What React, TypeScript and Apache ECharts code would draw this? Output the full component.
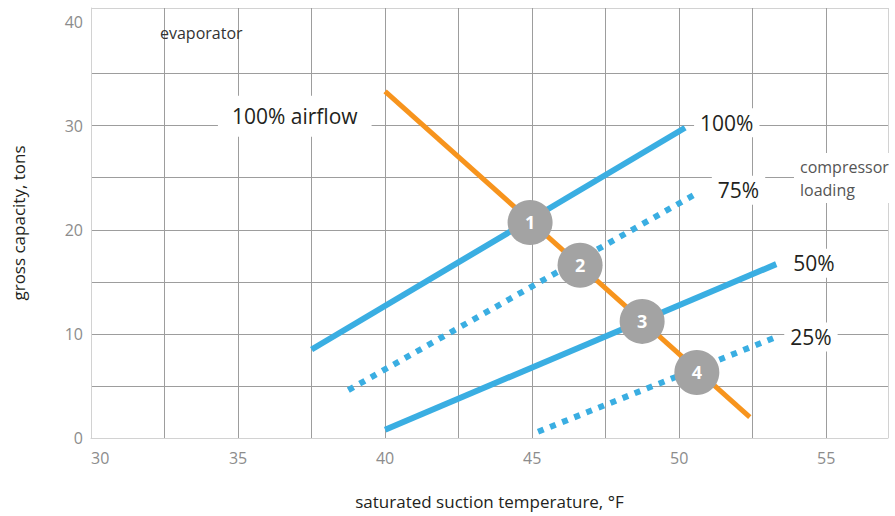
import React, { useEffect, useRef } from "react";
import * as echarts from "echarts";

// Tick labels shown on the axes
const xLabelValues = [30, 35, 40, 45, 50, 55];
const yLabelValues = [0, 10, 20, 30, 40];

// Lines: [saturated suction temperature °F, gross capacity tons]
const airflow100 = [
  [40.0, 33.3],
  [52.4, 2.0],
];
const load100 = [
  [37.5, 8.5],
  [50.2, 29.8],
];
const load75 = [
  [38.75, 4.6],
  [50.6, 23.5],
];
const load50 = [
  [40.0, 0.8],
  [53.3, 16.7],
];
const load25 = [
  [45.2, 0.6],
  [53.3, 9.7],
];

// Operating points (balance points)
const pointNames = ["1", "2", "3", "4"];
const pointX = [44.93, 46.63, 48.74, 50.6];
const pointY = [20.7, 16.6, 11.2, 6.3];

const loadNames = ["100%", "75%", "50%", "25%"];

const FONT = "Open Sans";
const BLUE = "#3aaee2";
const ORANGE = "#f7941d";
const GRID_GRAY = "#9d9d9d";
const EDGE_GRAY = "#d2d2d2";

export default function App() {
  const ref = useRef<HTMLDivElement>(null);

  useEffect(() => {
    if (!ref.current) return;
    const chart = echarts.init(ref.current, null, { renderer: "svg" });

    const xColors = [EDGE_GRAY];
    for (let i = 0; i < 10; i++) xColors.push(GRID_GRAY);
    xColors.push(EDGE_GRAY);

    const yColors = [EDGE_GRAY];
    for (let i = 0; i < 7; i++) yColors.push(GRID_GRAY);
    yColors.push("rgba(0,0,0,0)");
    yColors.push(EDGE_GRAY);

    const endLabel = (text: string, offset: number[]) => ({
      show: true,
      formatter: text,
      offset,
      fontFamily: FONT,
      fontSize: 21,
      color: "#231f20",
      backgroundColor: "#ffffff",
      padding: [4, 6],
    });

    const solid = { color: BLUE, width: 6, cap: "butt" };
    const dotted = { color: BLUE, width: 6, type: [6, 7], cap: "butt" };

    const option: any = {
      animation: false,
      grid: { left: 91, right: 7, top: 8, bottom: 78, show: false },
      xAxis: {
        type: "value",
        min: 30,
        max: 57.1,
        interval: 2.5,
        name: "saturated suction temperature, °F",
        nameLocation: "middle",
        nameGap: 55,
        nameTextStyle: { fontFamily: FONT, fontSize: 17, color: "#231f20" },
        axisLine: { show: true, lineStyle: { color: EDGE_GRAY, width: 1 } },
        axisTick: { show: false },
        axisLabel: {
          margin: 12,
          fontFamily: FONT,
          fontSize: 16,
          color: "#8c8c8c",
          alignMinLabel: "left",
          formatter: (v: number) => (xLabelValues.includes(Math.round(v * 100) / 100) ? String(v) : ""),
        },
        splitLine: { show: true, lineStyle: { color: xColors, width: 1 } },
      },
      yAxis: {
        type: "value",
        min: 0,
        max: 41.3,
        interval: 5,
        name: "gross capacity, tons",
        nameLocation: "middle",
        nameGap: 64,
        nameRotate: 90,
        nameTextStyle: { fontFamily: FONT, fontSize: 17, color: "#231f20" },
        axisLine: { show: true, lineStyle: { color: EDGE_GRAY, width: 1 } },
        axisTick: { show: false },
        axisLabel: {
          margin: 8,
          fontFamily: FONT,
          fontSize: 16,
          color: "#8c8c8c",
          formatter: (v: number) => (yLabelValues.includes(Math.round(v * 100) / 100) ? String(v) : ""),
        },
        splitLine: { show: true, lineStyle: { color: yColors, width: 1 } },
      },
      series: [
        {
          type: "line",
          name: loadNames[0],
          data: load100,
          showSymbol: false,
          lineStyle: solid,
          endLabel: endLabel(loadNames[0], [1, -5]),
          z: 2,
        },
        {
          type: "line",
          name: loadNames[1],
          data: load75,
          showSymbol: false,
          lineStyle: dotted,
          endLabel: endLabel(loadNames[1], [7, -3]),
          z: 2,
        },
        {
          type: "line",
          name: loadNames[2],
          data: load50,
          showSymbol: false,
          lineStyle: solid,
          endLabel: endLabel(loadNames[2], [3, -1]),
          z: 2,
        },
        {
          type: "line",
          name: loadNames[3],
          data: load25,
          showSymbol: false,
          lineStyle: dotted,
          endLabel: endLabel(loadNames[3], [0, 0]),
          z: 2,
        },
        {
          type: "line",
          name: "100% airflow",
          symbol: "none",
          data: airflow100.map((p, i) =>
            i === 0
              ? {
                  value: p,
                  symbol: "circle",
                  symbolSize: 1,
                  itemStyle: { color: "rgba(0,0,0,0)" },
                  label: {
                    show: true,
                    position: "left",
                    distance: 5,
                    offset: [-8, 25],
                    formatter: "100% airflow",
                    fontFamily: FONT,
                    fontSize: 21,
                    color: "#231f20",
                    backgroundColor: "#ffffff",
                    padding: [10, 14],
                  },
                }
              : { value: p }
          ),
          lineStyle: { color: ORANGE, width: 5, cap: "butt" },
          z: 3,
        },
        {
          type: "scatter",
          name: "operating points",
          data: pointNames.map((n, i) => ({ name: n, value: [pointX[i], pointY[i]] })),
          symbol: "circle",
          symbolSize: 45,
          itemStyle: { color: "#a3a3a3", opacity: 1 },
          label: {
            show: true,
            position: "inside",
            formatter: (p: any) => p.name,
            fontFamily: FONT,
            fontSize: 18,
            fontWeight: "bold",
            color: "#ffffff",
          },
          z: 4,
        },
      ],
      graphic: [
        {
          type: "text",
          left: 160,
          top: 25,
          style: { text: "evaporator", fontFamily: FONT, fontSize: 16, fill: "#333333" },
          z: 10,
        },
        {
          type: "text",
          left: 794,
          top: 153,
          style: {
            text: "compressor\nloading",
            fontFamily: FONT,
            fontSize: 16,
            lineHeight: 23,
            fill: "#555555",
            backgroundColor: "#ffffff",
            padding: [2, 6],
          },
          z: 10,
        },
      ],
    };

    chart.setOption(option);
    return () => chart.dispose();
  }, []);

  return (
    <div
      ref={ref}
      style={{ position: "fixed", left: 0, top: 0, width: 895, height: 516, background: "#ffffff" }}
    />
  );
}
